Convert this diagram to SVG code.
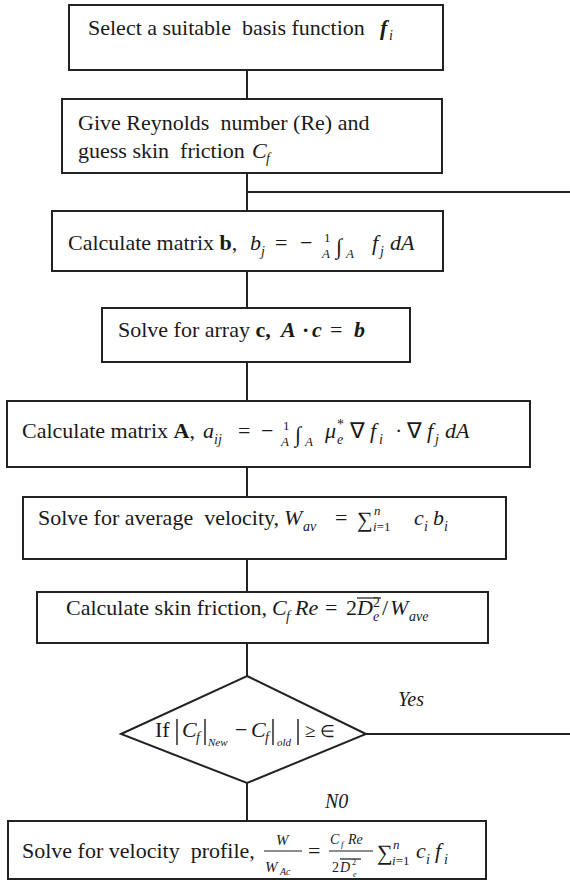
<svg xmlns="http://www.w3.org/2000/svg" width="570" height="885" viewBox="0 0 570 885">
<style>
.box{fill:#fff;stroke:#222;stroke-width:2}
.t{font-family:"Liberation Serif","Times New Roman",serif;font-size:22px;fill:#1a1a1a}
.m{font-style:italic}
.b{font-weight:bold}
.s{font-size:14px}
.xs{font-size:11px}
.fr{font-size:13px}
.lbl{font-size:20px}
.bar{stroke:#1a1a1a;stroke-width:1.2}
.vb{stroke:#1a1a1a;stroke-width:1.4}
.conn line{stroke:#222;stroke-width:2;fill:none}
</style>
<rect width="570" height="885" fill="#fff"/>
<g class="conn" id="connectors">
<line x1="247" y1="70" x2="247" y2="99"/>
<line x1="247" y1="173" x2="247" y2="211"/>
<line x1="247" y1="192" x2="570" y2="192"/>
<line x1="247" y1="271" x2="247" y2="308"/>
<line x1="247" y1="362" x2="247" y2="401"/>
<line x1="247" y1="467" x2="247" y2="497"/>
<line x1="247" y1="559" x2="247" y2="592"/>
<line x1="247" y1="643" x2="247" y2="676"/>
<line x1="366" y1="734" x2="570" y2="734"/>
<line x1="247" y1="783" x2="247" y2="821"/>
<text class="t m lbl" x="398" y="706">Yes</text>
<text class="t m lbl" x="325" y="808">N0</text>
</g>
<g id="n1">
<rect class="box" x="69" y="5" width="374" height="65"/>
<text class="t" x="88" y="35" xml:space="preserve">Select a suitable  basis function</text>
<text class="t m b" x="380" y="35">f</text>
<text class="t m s" x="389" y="40">i</text>
</g>
<g id="n2">
<rect class="box" x="62" y="99" width="380" height="74"/>
<text class="t" x="78" y="130" xml:space="preserve">Give Reynolds  number (Re) and</text>
<text class="t" x="78" y="158" xml:space="preserve">guess skin  friction</text>
<text class="t m" x="252" y="158">C</text>
<text class="t m s" x="266" y="163">f</text>
</g>
<g id="n3">
<rect class="box" x="52" y="211" width="391" height="60"/>
<text class="t" x="68" y="250">Calculate matrix <tspan class="b">b</tspan>,</text>
<text class="t m" x="250" y="250">b</text>
<text class="t m s" x="261" y="256">j</text>
<text class="t" x="275" y="250">=</text>
<text class="t" x="300" y="250">−</text>
<text class="t fr" x="324" y="242">1</text>
<text class="t m fr" x="322" y="258">A</text>
<text class="t" x="336" y="254">∫</text>
<text class="t m fr" x="346" y="258">A</text>
<text class="t m" x="372" y="250">f</text>
<text class="t m s" x="380" y="256">j</text>
<text class="t m" x="390" y="250">dA</text>
</g>
<g id="n4">
<rect class="box" x="102" y="308" width="308" height="54"/>
<text class="t" x="118" y="337">Solve for array <tspan class="b">c,</tspan></text>
<text class="t m b" x="281" y="337">A</text>
<text class="t b" x="302" y="337">·</text>
<text class="t m b" x="312" y="337">c</text>
<text class="t" x="330" y="337">=</text>
<text class="t m b" x="354" y="337">b</text>
</g>
<g id="n5">
<rect class="box" x="7" y="401" width="523" height="66"/>
<text class="t" x="22" y="438">Calculate matrix <tspan class="b">A</tspan>,</text>
<text class="t m" x="203" y="438">a</text>
<text class="t m s" x="214" y="444">ij</text>
<text class="t" x="238" y="438">=</text>
<text class="t" x="261" y="438">−</text>
<text class="t fr" x="283" y="430">1</text>
<text class="t m fr" x="281" y="446">A</text>
<text class="t" x="295" y="442">∫</text>
<text class="t m fr" x="305" y="446">A</text>
<text class="t m" x="325" y="438">μ</text>
<text class="t s" x="337" y="429">*</text>
<text class="t m s" x="337" y="444">e</text>
<text class="t" x="350" y="438">∇</text>
<text class="t m" x="370" y="438">f</text>
<text class="t m s" x="379" y="444">i</text>
<text class="t" x="395" y="438">·</text>
<text class="t" x="407" y="438">∇</text>
<text class="t m" x="427" y="438">f</text>
<text class="t m s" x="435" y="444">j</text>
<text class="t m" x="445" y="438">dA</text>
</g>
<g id="n6">
<rect class="box" x="23" y="497" width="483" height="62"/>
<text class="t" x="38" y="525" xml:space="preserve">Solve for average  velocity,</text>
<text class="t m" x="284" y="525">W</text>
<text class="t m s" x="303" y="531">av</text>
<text class="t" x="335" y="525">=</text>
<text class="t" x="357" y="527">∑</text>
<text class="t m fr" x="374" y="515">n</text>
<text class="t m fr" x="373" y="531">i<tspan font-style="normal">=1</tspan></text>
<text class="t m" x="414" y="525">c</text>
<text class="t m s" x="424" y="531">i</text>
<text class="t m" x="433" y="525">b</text>
<text class="t m s" x="444" y="531">i</text>
</g>
<g id="n7">
<rect class="box" x="37" y="592" width="451" height="51"/>
<text class="t" x="66" y="615">Calculate skin friction,</text>
<text class="t m" x="272" y="615">C</text>
<text class="t m s" x="286" y="621">f</text>
<text class="t m" x="295" y="615">Re</text>
<text class="t" x="325" y="615">=</text>
<text class="t" x="346" y="615">2</text>
<line class="bar" x1="357" y1="598" x2="381" y2="598"/>
<text class="t m" x="357" y="615">D</text>
<text class="t s" x="373" y="607">2</text>
<text class="t m s" x="373" y="621">e</text>
<text class="t" x="382" y="615">/</text>
<text class="t m" x="390" y="615">W</text>
<text class="t m s" x="409" y="621">ave</text>
</g>
<g id="n8">
<polygon class="box" points="247,676 366,734 247,783 121,734"/>
<text class="t" x="155" y="737">If</text>
<line class="vb" x1="177" y1="719" x2="177" y2="745"/>
<text class="t m" x="182" y="737">C</text>
<text class="t m s" x="196" y="742">f</text>
<line class="vb" x1="205" y1="719" x2="205" y2="745"/>
<text class="t m xs" x="208" y="746">New</text>
<text class="t" x="235" y="737">−</text>
<text class="t m" x="251" y="737">C</text>
<text class="t m s" x="265" y="742">f</text>
<line class="vb" x1="273" y1="719" x2="273" y2="745"/>
<text class="t m xs" x="277" y="746">old</text>
<line class="vb" x1="298" y1="719" x2="298" y2="745"/>
<text class="t" x="305" y="737" style="font-size:19px">≥</text>
<text class="t" x="320" y="737" style="font-size:17px">∈</text>
</g>
<g id="n9">
<rect class="box" x="8" y="821" width="478" height="58"/>
<text class="t" x="22" y="858" xml:space="preserve">Solve for velocity  profile,</text>
<text class="t m" x="276" y="845" style="font-size:15px">W</text>
<line class="bar" x1="264" y1="851" x2="302" y2="851"/>
<text class="t m" x="265" y="872" style="font-size:15px">W</text>
<text class="t m" x="280" y="875" style="font-size:10px">Ac</text>
<text class="t" x="308" y="858">=</text>
<text class="t m" x="330" y="844" style="font-size:14px">C</text>
<text class="t m" x="341" y="847" style="font-size:9px">f</text>
<text class="t m" x="348" y="844" style="font-size:14px">Re</text>
<line class="bar" x1="329" y1="851" x2="373" y2="851"/>
<text class="t" x="332" y="872" style="font-size:14px">2</text>
<line class="bar" x1="340" y1="859" x2="361" y2="859"/>
<text class="t m" x="340" y="872" style="font-size:14px">D</text>
<text class="t" x="352" y="865" style="font-size:8px">2</text>
<text class="t m" x="353" y="877" style="font-size:8px">e</text>
<text class="t" x="377" y="860">∑</text>
<text class="t m fr" x="393" y="849">n</text>
<text class="t m fr" x="392" y="865">i<tspan font-style="normal">=1</tspan></text>
<text class="t m" x="416" y="858">c</text>
<text class="t m s" x="426" y="864">i</text>
<text class="t m" x="435" y="858">f</text>
<text class="t m s" x="444" y="864">i</text>
</g>
</svg>
